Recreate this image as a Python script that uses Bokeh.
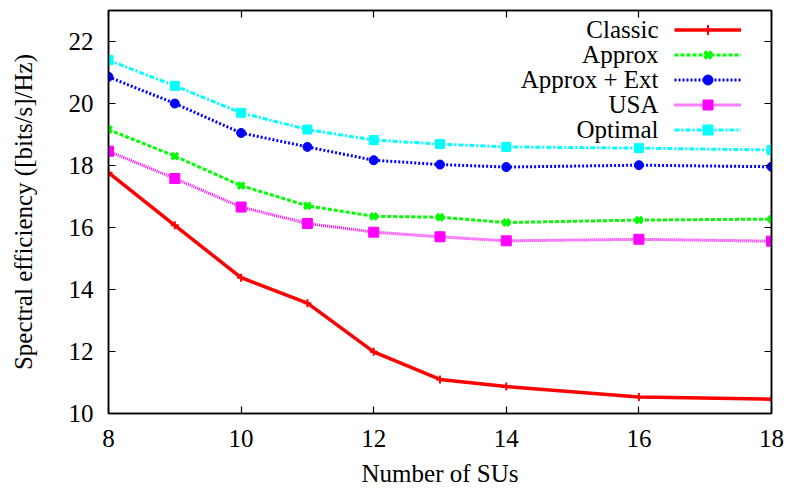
from bokeh.plotting import figure
from bokeh.models import (Range1d, LinearAxis, FixedTicker, Legend, LegendItem,
                          Label, CustomJSTickFormatter)
from bokeh.embed import file_html
from bokeh.resources import INLINE

FONT = "Liberation Serif"

num_sus = [8, 9, 10, 11, 12, 13, 14, 16, 18]
classic = [17.77, 16.07, 14.38, 13.56, 11.99, 11.10, 10.87, 10.53, 10.46]
approx = [19.16, 18.30, 17.35, 16.70, 16.36, 16.33, 16.16, 16.24, 16.27]
approx_ext = [20.86, 20.00, 19.05, 18.60, 18.17, 18.03, 17.95, 18.01, 17.96]
usa = [18.46, 17.58, 16.66, 16.13, 15.85, 15.70, 15.57, 15.62, 15.56]
optimal = [21.40, 20.57, 19.70, 19.16, 18.82, 18.69, 18.60, 18.56, 18.50]

series_names = ["Classic", "Approx", "Approx + Ext", "USA", "Optimal"]
x_ticks = [8, 10, 12, 14, 16, 18]
y_ticks = [10, 12, 14, 16, 18, 20, 22]

p = figure(width=787, height=489, output_backend="svg", toolbar_location=None,
           x_range=Range1d(8, 18), y_range=Range1d(10, 23),
           min_border_left=108, min_border_right=16, min_border_top=10,
           min_border_bottom=76)
p.grid.visible = False
p.outline_line_color = "black"
p.outline_line_width = 1.5
p.background_fill_color = "white"
p.border_fill_color = "white"


def style_axis(ax, labels=True):
    ax.axis_line_color = "black"
    ax.axis_line_width = 1.5
    ax.major_tick_in = 7
    ax.major_tick_out = 0
    ax.major_tick_line_width = 1.2
    ax.minor_tick_line_color = None
    ax.major_label_text_font = FONT
    ax.major_label_text_font_size = "25px"
    ax.major_label_text_color = "black"
    ax.axis_label_text_font = FONT
    ax.axis_label_text_font_size = "25px"
    ax.axis_label_text_font_style = "normal"
    ax.axis_label_text_color = "black"
    if not labels:
        ax.formatter = CustomJSTickFormatter(code="return ''")
        ax.major_label_standoff = 0


xa = p.xaxis[0]
xa.ticker = FixedTicker(ticks=x_ticks)
style_axis(xa)
xa.major_label_standoff = 16
xa.axis_label = "Number of SUs"
xa.axis_label_standoff = 10

ya = p.yaxis[0]
ya.ticker = FixedTicker(ticks=y_ticks)
style_axis(ya)
ya.major_label_standoff = 15
ya.axis_label = "Spectral efficiency ([bits/s]/Hz)"
ya.axis_label_standoff = 29

top = LinearAxis(ticker=FixedTicker(ticks=x_ticks))
style_axis(top, labels=False)
p.add_layout(top, "above")
right = LinearAxis(ticker=FixedTicker(ticks=y_ticks))
style_axis(right, labels=False)
p.add_layout(right, "right")

specs = [
    (classic, "#ff0000", 3.5, "solid", "cross", 8, 2),
    (approx, "#00ff00", 3, "4 2", "x", 9, 3.5),
    (approx_ext, "#0000ff", 3, "2 2", "circle", 9, 1),
    (usa, "#ff00ff", 3, "1 1", "square", 10, 1),
    (optimal, "#00ffff", 3, "5 2 2 2", "square", 9, 1),
]

items = []
for name, (vals, color, lw, dash, marker, size, mlw) in zip(series_names, specs):
    ln = p.line(num_sus, vals, line_color=color, line_width=lw, line_dash=dash)
    sc = p.scatter(num_sus, vals, marker=marker, size=size, line_color=color,
                   fill_color=color, line_width=mlw)
    items.append(LegendItem(label=" ", renderers=[ln, sc]))

legend = Legend(items=items, location=(566, 271), orientation="vertical",
                glyph_width=67, glyph_height=25, label_height=25, label_width=0,
                label_standoff=0, spacing=0, padding=0, margin=0,
                label_text_font_size="1px", border_line_color=None,
                background_fill_alpha=0)
p.add_layout(legend)

row_y = [384, 359.1, 334.2, 309.3, 284.4]
for name, yy in zip(series_names, row_y):
    p.add_layout(Label(x=550, y=yy, x_units="screen", y_units="screen", text=name,
                       text_align="right", text_baseline="middle",
                       text_font=FONT, text_font_size="25px", text_color="black"))

open("out.html", "w").write(file_html(p, INLINE))
